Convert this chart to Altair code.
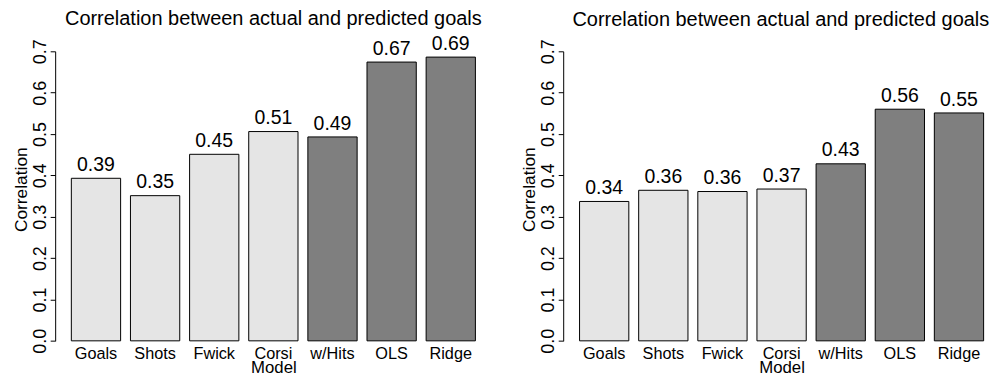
import altair as alt
import pandas as pd

# ---- data ----
models = ["Goals", "Shots", "Fwick", "Corsi", "w/Hits", "OLS", "Ridge"]
groups = ["single", "single", "single", "single", "combined", "combined", "combined"]
left_values = [0.393, 0.351, 0.451, 0.506, 0.493, 0.674, 0.686]
right_values = [0.337, 0.364, 0.361, 0.367, 0.428, 0.560, 0.551]
y_ticks = [0.0, 0.1, 0.2, 0.3, 0.4, 0.5, 0.6, 0.7]
title_text = "Correlation between actual and predicted goals"
x_title = "Model"
y_title = "Correlation"
group_colors = ["#E5E5E5", "#7F7F7F"]

FONT = "Liberation Sans"
PLOT_H = 290.2


def panel(values, width, pad_outer, align, title_dx, title_offset, model_x):
    df = pd.DataFrame({"model": models, "group": groups, "value": values})
    x = alt.X(
        "model:N",
        sort=models,
        scale=alt.Scale(paddingInner=1 / 6, paddingOuter=pad_outer, align=align),
        axis=alt.Axis(
            title=x_title,
            domain=False,
            ticks=False,
            labelAngle=0,
            labelFont=FONT,
            labelFontSize=16.3,
            labelColor="black",
            labelPadding=17.2,
            labelBaseline="alphabetic",
            titleFont=FONT,
            titleFontSize=16.8,
            titleFontWeight="normal",
            titleColor="black",
            titleBaseline="bottom",
            titleX=model_x,
            titleY=35.5,
        ),
    )
    y = alt.Y(
        "value:Q",
        scale=alt.Scale(domain=[0, 0.7], nice=False, zero=True),
        axis=alt.Axis(
            title=y_title,
            values=y_ticks,
            format=".1f",
            grid=False,
            domainColor="black",
            domainWidth=1,
            tickColor="black",
            tickWidth=1,
            tickSize=5,
            labelAngle=-90,
            labelAlign="center",
            labelBaseline="alphabetic",
            labelPadding=4.5,
            labelFont=FONT,
            labelFontSize=18,
            labelColor="black",
            titleFont=FONT,
            titleFontSize=17.4,
            titleFontWeight="normal",
            titleColor="black",
            titleAngle=-90,
            titleBaseline="alphabetic",
            titleX=-28.3,
            titleY=138.2,
        ),
    )
    base = alt.Chart(df).encode(x=x, y=y)
    bars = base.mark_bar(stroke="black", strokeWidth=1).encode(
        color=alt.Color(
            "group:N",
            scale=alt.Scale(domain=["single", "combined"], range=group_colors),
            legend=None,
        ),
    )
    labels = base.mark_text(
        font=FONT, fontSize=19.5, color="black", baseline="alphabetic", dy=-7.4
    ).encode(
        text=alt.Text("value:Q", format=".2f"),
    )
    return alt.layer(bars, labels).properties(
        width=width,
        height=PLOT_H,
        title=alt.TitleParams(
            title_text,
            font=FONT,
            fontSize=20,
            fontWeight="normal",
            color="black",
            frame="group",
            anchor="middle",
            baseline="alphabetic",
            offset=title_offset,
            dx=title_dx,
        ),
    )


left = panel(left_values, 437.4, 0.2733, 0.5, 0, -11.4, 218.7)
right = panel(right_values, 431.7, 0.2252, 0.614, 2.3, -7.4, 218.9)

chart = (
    alt.hconcat(left, right, spacing=28.2)
    .properties(padding={"left": 12.3, "top": 8, "right": 0, "bottom": 0}, background="white")
    .configure_view(stroke=None)
)

chart.save("out.html", embed_options={"renderer": "svg", "actions": False})
